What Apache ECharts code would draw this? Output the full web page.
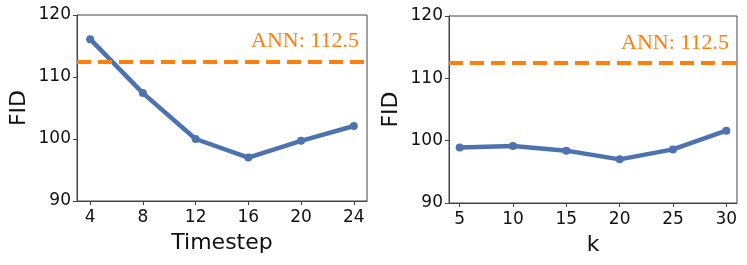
<!DOCTYPE html>
<html>
<head>
<meta charset="utf-8">
<script src="https://cdn.jsdelivr.net/npm/echarts@6/dist/echarts.min.js"></script>
<style>html,body{margin:0;padding:0;background:#fff}#c{width:747px;height:265px}</style>
</head>
<body>
<div id="c"></div>
<script>
const timesteps = [4, 8, 12, 16, 20, 24];
const fidTimestep = [116.1, 107.4, 100.0, 97.0, 99.7, 102.1];
const kValues = [5, 10, 15, 20, 25, 30];
const fidK = [98.9, 99.15, 98.4, 97.0, 98.6, 101.6];
const yTicks = [90, 100, 110, 120];
const annFID = 112.5;
const annLabel = 'ANN: 112.5';

const blue = '#4c72b0', orange = '#ff7f0e';
const font = 'DejaVu Sans';
const chart = echarts.init(document.getElementById('c'), null, {renderer: 'canvas'});

function xAx(idx, name, min, max, ticks) {
  return {
    type: 'value', gridIndex: idx, min: min, max: max,
    name: name, nameLocation: 'middle', nameGap: 31,
    nameTextStyle: {fontFamily: font, fontSize: 22, color: '#111'},
    axisLine: {show: true, onZero: false, lineStyle: {color: '#444', width: 1}},
    axisTick: {show: true, length: 4, lineStyle: {color: '#444'}, customValues: ticks},
    axisLabel: {fontFamily: font, fontSize: 17, color: '#111', margin: 8, customValues: ticks},
    splitLine: {show: false}
  };
}
function yAx(idx) {
  return {
    type: 'value', gridIndex: idx, min: 90, max: 120, interval: 10,
    name: 'FID', nameLocation: 'middle', nameGap: 47,
    nameTextStyle: {fontFamily: font, fontSize: 22, color: '#111'},
    axisLine: {show: true, lineStyle: {color: '#444', width: 1}},
    axisTick: {show: true, length: 4, lineStyle: {color: '#444'}, customValues: yTicks},
    axisLabel: {fontFamily: font, fontSize: 17, color: '#111', margin: 6, customValues: yTicks},
    splitLine: {show: false}
  };
}
function ser(idx, xs, ys) {
  return {
    type: 'line', xAxisIndex: idx, yAxisIndex: idx,
    data: xs.map((x, i) => [x, ys[i]]),
    symbol: 'circle', symbolSize: 8,
    lineStyle: {color: blue, width: 4.5},
    itemStyle: {color: blue},
    animation: false,
    markLine: {
      silent: true, symbol: 'none', animation: false,
      lineStyle: {color: orange, width: 4, type: [14, 7]},
      label: {show: true, position: 'insideEndTop', formatter: annLabel,
        fontFamily: 'Liberation Serif', fontSize: 22, color: orange, distance: [8, 9]},
      data: [{yAxis: annFID}]
    }
  };
}

chart.setOption({
  animation: false,
  grid: [
    {left: 77, right: 380, top: 15, height: 186, show: true, borderColor: '#444', borderWidth: 1},
    {left: 449, right: 10, top: 16, height: 187, show: true, borderColor: '#444', borderWidth: 1}
  ],
  xAxis: [xAx(0, 'Timestep', 3, 25, timesteps), xAx(1, 'k', 4, 31, kValues)],
  yAxis: [yAx(0), yAx(1)],
  series: [ser(0, timesteps, fidTimestep), ser(1, kValues, fidK)]
});
</script>
</body>
</html>
